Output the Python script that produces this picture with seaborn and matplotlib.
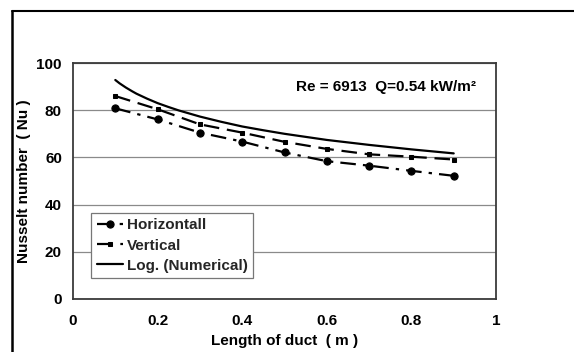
import matplotlib
matplotlib.use("Agg")
import matplotlib.pyplot as plt
from matplotlib.lines import Line2D
import seaborn as sns
import pandas as pd

# Data
x_points = [0.1, 0.2, 0.3, 0.4, 0.5, 0.6, 0.7, 0.8, 0.9]
horizontal = [80.8, 76.1, 70.5, 66.7, 62.1, 58.4, 56.5, 54.3, 52.2]
vertical = [86.0, 80.4, 74.0, 70.5, 66.6, 63.6, 61.3, 60.3, 59.1]
num_x = [0.1, 0.11, 0.125, 0.14, 0.15, 0.175, 0.2, 0.225, 0.25, 0.3, 0.35,
         0.4, 0.45, 0.5, 0.6, 0.7, 0.8, 0.9]
numerical = [92.8, 91.4, 89.6, 88.0, 87.0, 84.9, 83.0, 81.4, 79.9, 77.3, 75.1,
             73.1, 71.5, 70.0, 67.4, 65.3, 63.4, 61.7]
x_ticks = [0, 0.2, 0.4, 0.6, 0.8, 1]
x_tick_labels = ["0", "0.2", "0.4", "0.6", "0.8", "1"]
y_ticks = [0, 20, 40, 60, 80, 100]
annotation = "Re = 6913  Q=0.54 kW/m\u00b2"

sns.set_theme(style="white")
plt.rcParams["font.family"] = ["Liberation Sans", "DejaVu Sans"]
plt.rcParams["font.weight"] = "bold"

FS = 11

fig = plt.figure(figsize=(5.74, 3.52), dpi=100)
ax = fig.add_axes([73 / 574, 1 - 299 / 352, (496 - 73) / 574, (299 - 63) / 352])

df_h = pd.DataFrame({"x": x_points, "y": horizontal})
df_v = pd.DataFrame({"x": x_points, "y": vertical})
df_n = pd.DataFrame({"x": num_x, "y": numerical})

sns.lineplot(data=df_h, x="x", y="y", ax=ax, color="black", lw=1.6,
             marker="o", markersize=5.2, markeredgecolor="black",
             linestyle=(0, (7, 3.2, 1.5, 3.2)), label="Horizontall")
sns.lineplot(data=df_v, x="x", y="y", ax=ax, color="black", lw=1.6,
             marker="s", markersize=3.4, markeredgecolor="black",
             linestyle=(0, (7, 3.5)), label="Vertical")
sns.lineplot(data=df_n, x="x", y="y", ax=ax, color="black", lw=1.6,
             label="Log. (Numerical)")

ax.set_xlim(0, 1)
ax.set_ylim(0, 100)
ax.set_xticks(x_ticks)
ax.set_xticklabels(x_tick_labels)
ax.set_yticks(y_ticks)
ax.yaxis.grid(True, color="#8a8a8a", lw=0.9)
ax.xaxis.grid(False)
ax.set_axisbelow(True)
for s in ax.spines.values():
    s.set_visible(True)
    s.set_color("#3a3a3a")
    s.set_linewidth(1.3)
ax.tick_params(axis="both", which="major", direction="out", length=4,
               width=1, color="#777777", labelsize=FS, labelcolor="black", pad=4)
ax.tick_params(axis="x", pad=7)
for lbl in ax.get_xticklabels() + ax.get_yticklabels():
    lbl.set_fontweight("bold")

ax.set_xlabel("Length of duct  ( m )", fontsize=FS, fontweight="bold", color="black")
ax.set_ylabel("Nusselt number  ( Nu )", fontsize=FS, fontweight="bold", color="black")
ax.xaxis.set_label_coords(0.5, -0.15)
ax.yaxis.set_label_coords(-0.100, 0.5)

ax.text(0.74, 90, annotation, fontsize=FS, fontweight="bold",
        ha="center", va="center", color="black")

leg = ax.legend(loc="lower left", bbox_to_anchor=(0.043, 0.089), borderaxespad=0,
                frameon=True, fancybox=False, framealpha=1, edgecolor="#777777",
                fontsize=FS, handlelength=1.75, handletextpad=0.25,
                labelspacing=0.4, borderpad=0.35)
leg.get_frame().set_linewidth(0.9)
for t in leg.get_texts():
    t.set_fontweight("bold")

# outer frame lines
fig.add_artist(Line2D([12 / 574, 1], [1 - 11 / 352, 1 - 11 / 352],
                      transform=fig.transFigure, color="black", lw=1.5))
fig.add_artist(Line2D([12 / 574, 12 / 574], [1 - 11 / 352, 0],
                      transform=fig.transFigure, color="black", lw=1.8))

fig.savefig("out.png", dpi=100)
